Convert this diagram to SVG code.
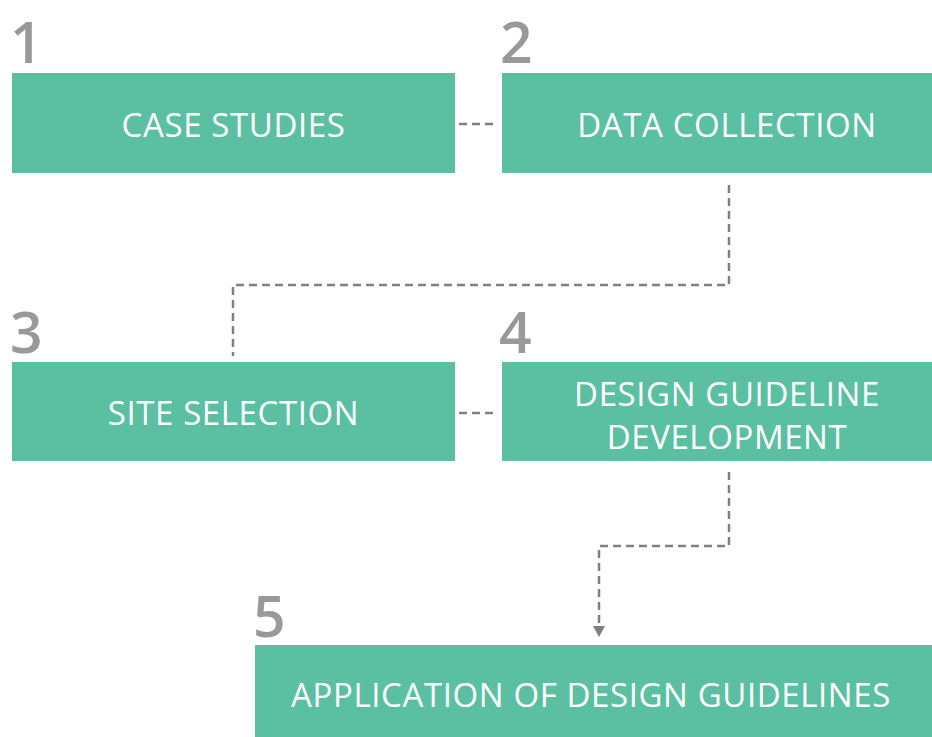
<svg xmlns="http://www.w3.org/2000/svg" width="932" height="737" viewBox="0 0 932 737">
<defs>
<style>
.box{fill:#5bc0a2}
.lbl{fill:#ffffff;font-family:"Open Sans","Liberation Sans",sans-serif;font-size:33px;text-anchor:middle;letter-spacing:0.6px}
.num{fill:#98999b;font-family:"Open Sans","Liberation Sans",sans-serif;font-size:57px;font-weight:600}
.con{fill:none;stroke:#808080;stroke-width:2.5;stroke-dasharray:8 5}
</style>
</defs>
<rect width="932" height="737" fill="#ffffff"/>
<g id="connectors">
<path class="con" d="M459 124 H497"/>
<path class="con" d="M729 185 V285 H233 V356"/>
<path class="con" d="M459 413 H497"/>
<path class="con" d="M729 472 V546 H599 V627"/>
<path d="M593 626 L605 626 L599 637 Z" fill="#808080"/>
</g>
<g id="node1">
<text class="num" x="10" y="63">1</text>
<rect class="box" x="12" y="73" width="443" height="100"/>
<text class="lbl" x="233.5" y="137">CASE STUDIES</text>
</g>
<g id="node2">
<text class="num" x="500" y="63">2</text>
<rect class="box" x="502" y="73" width="443" height="100"/>
<text class="lbl" x="727" y="137">DATA COLLECTION</text>
</g>
<g id="node3">
<text class="num" x="10" y="353">3</text>
<rect class="box" x="12" y="362" width="443" height="99"/>
<text class="lbl" x="233.5" y="425">SITE SELECTION</text>
</g>
<g id="node4">
<text class="num" x="499" y="353">4</text>
<rect class="box" x="502" y="362" width="443" height="99"/>
<text class="lbl" x="727" y="406">DESIGN GUIDELINE</text>
<text class="lbl" x="727" y="449">DEVELOPMENT</text>
</g>
<g id="node5">
<text class="num" x="253" y="637">5</text>
<rect class="box" x="255" y="645" width="677" height="92"/>
<text class="lbl" x="591" y="707">APPLICATION OF DESIGN GUIDELINES</text>
</g>
</svg>
